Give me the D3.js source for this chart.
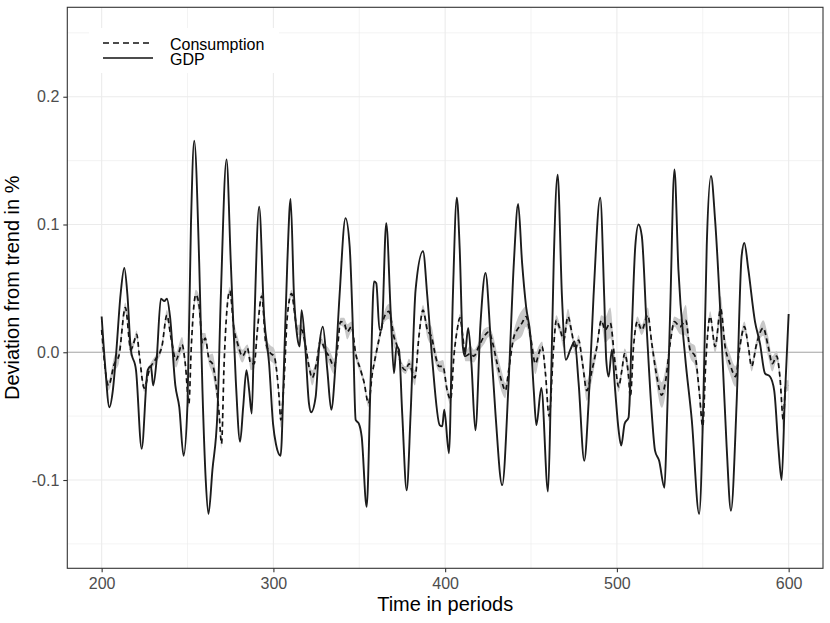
<!DOCTYPE html>
<html>
<head>
<meta charset="utf-8">
<script src="https://cdn.jsdelivr.net/npm/d3@7/dist/d3.min.js"></script>
<style>
  body { margin: 0; background: #fff; }
  text { font-family: "Liberation Sans", Arial, Helvetica, sans-serif; }
</style>
</head>
<body>
<svg id="chart" width="830" height="623"></svg>
<script>
// ----- data -----
const xMajor = [200, 300, 400, 500, 600];
const xMinor = [250, 350, 450, 550];
const yMajor = [-0.1, 0, 0.1, 0.2];
const yMinor = [-0.15, -0.05, 0.05, 0.15, 0.25];
const seriesNames = ["Consumption", "GDP"];

// [period, deviation]
const gdp = [
  [200, 0.028], [202, -0.01], [204.5, -0.043], [206.5, -0.03], [208.5, 0.0], [211, 0.045],
  [213.2, 0.066], [215, 0.045], [217, 0.002], [220, -0.014], [223.3, -0.0755], [226.8, -0.014],
  [228.7, -0.011], [230, -0.026], [232, -0.006], [234.5, 0.042], [236.5, 0.040], [238, 0.042],
  [239.8, 0.028], [242.9, -0.026], [245.2, -0.043], [247.7, -0.081], [250, -0.04], [252, 0.1],
  [253.9, 0.1655], [256.8, 0.07], [258.7, -0.03], [260.6, -0.1], [262.2, -0.1265], [264.5, -0.092],
  [267.4, -0.048], [269.4, 0.044], [272.7, 0.151], [275.2, 0.07], [278.1, -0.022], [280.6, -0.070],
  [282.4, -0.043], [284.3, -0.014], [285.9, -0.03], [287.4, -0.048], [288.8, 0.0175], [291.7, 0.114],
  [294.6, 0.028], [297.5, -0.009], [299.8, -0.056], [301.5, -0.072], [304.2, -0.081], [306.2, -0.009],
  [308.1, 0.07], [310, 0.12], [312, 0.044], [313.9, 0.012], [315.3, 0.0045], [316.4, 0.033],
  [318.4, 0.007], [320.7, -0.040], [322, -0.047], [324.6, -0.035], [326.5, 0.002], [328.8, 0.020],
  [331.4, -0.014], [333.7, -0.045], [336.2, -0.009], [338.5, 0.044], [342, 0.105], [344.4, 0.083],
  [346.3, 0.0175], [347.9, -0.053], [349.8, -0.056], [351.4, -0.066], [354.3, -0.121], [356.6, -0.022],
  [358.6, 0.0555], [359.9, 0.054], [361.8, 0.0175], [363, 0.0175], [365.7, 0.101], [368.3, 0.031],
  [370.2, -0.0165], [371.7, 0.0045], [373.1, 0.002], [375, -0.048], [377.6, -0.108], [379.9, -0.048],
  [382.8, 0.049], [387.1, 0.079], [389.6, 0.044], [392.5, -0.006], [396.8, -0.057], [398.3, -0.058],
  [399.5, -0.045], [402.2, -0.079], [404.5, 0.044], [406.8, 0.121], [408.5, 0.08], [410.3, 0.0045],
  [411.4, -0.003], [413.4, 0.019], [415.3, -0.009], [417.6, -0.061], [420.6, 0.023], [423.5, 0.062],
  [426.4, 0.012], [429.3, -0.048], [433.2, -0.104], [437, -0.022], [440, 0.07], [442.5, 0.116],
  [444.8, 0.07], [447.1, 0.036], [449.7, 0.012], [451.6, -0.03], [453.1, -0.057], [456, -0.028],
  [459.9, -0.109], [461.5, -0.035], [463.2, 0.07], [465.5, 0.139], [468, 0.044], [470.3, -0.006],
  [472.9, 0.002], [475.4, 0.0085], [477.7, -0.024], [481, -0.085], [483.5, -0.04], [486.4, 0.044],
  [490.3, 0.121], [492.6, 0.044], [493.8, -0.006], [495.2, -0.019], [497.1, 0.002], [499, -0.03],
  [501, -0.061], [502.5, -0.073], [504.5, -0.056], [506.8, -0.051], [508.7, 0.0175], [510.7, 0.083],
  [512.6, 0.100], [514.5, 0.091], [517.4, 0.0175], [520.3, -0.048], [522.2, -0.077], [524.6, -0.085],
  [527.7, -0.106], [529, -0.061], [531, 0.031], [533.5, 0.143], [535.8, 0.065], [539.7, -0.003],
  [543.6, -0.053], [547.9, -0.1265], [550.4, -0.035], [552.3, 0.083], [554.8, 0.138], [557.2, 0.103],
  [561.2, 0.0045], [563.9, -0.074], [566.4, -0.124], [569.7, -0.040], [572.6, 0.075], [574.2, 0.0855],
  [576.5, 0.065], [580.4, 0.024], [583.3, 0.007], [586.2, -0.0165], [589.1, -0.019], [591.6, -0.03],
  [594, -0.074], [595.9, -0.1], [597.8, -0.035], [600, 0.03]
];

// [period, deviation, half width of the grey band]
const consumption = [
  [200, 0.0175, 0.003], [204, -0.026, 0.004], [207.4, -0.009, 0.006], [210, -0.003, 0.006],
  [213.8, 0.035, 0.004], [217, 0.002, 0.005], [218.6, 0.007, 0.003], [220.4, 0.014, 0.003],
  [222, -0.003, 0.003], [224.8, -0.028, 0.003], [227.7, -0.014, 0.003], [231.6, -0.005, 0.003],
  [235, 0.004, 0.003], [238, 0.029, 0.004], [240.3, 0.012, 0.004], [243.3, -0.006, 0.006],
  [246.8, 0.006, 0.006], [248.7, -0.009, 0.004], [250.8, -0.04, 0.003], [252.2, 0.0045, 0.003],
  [254.8, 0.045, 0.004], [256.8, 0.036, 0.008], [258.7, 0.007, 0.008], [260.3, 0.011, 0.004],
  [262.6, -0.006, 0.004], [264.5, -0.009, 0.008], [266.5, -0.024, 0.008], [268.4, -0.048, 0.004],
  [269.8, -0.0715, 0.004], [271.3, -0.009, 0.003], [274.6, 0.048, 0.003], [277.1, 0.0175, 0.006],
  [279.1, 0.007, 0.006], [282, -0.003, 0.005], [284.9, 0.003, 0.003], [286.8, -0.009, 0.005],
  [288.8, -0.009, 0.004], [290.7, 0.0175, 0.003], [293.2, 0.044, 0.003], [295.6, 0.007, 0.005],
  [298.5, -0.001, 0.006], [300.4, -0.003, 0.006], [303.3, -0.035, 0.004], [304.3, -0.053, 0.006],
  [306.2, -0.022, 0.004], [308.1, 0.028, 0.003], [310.6, 0.046, 0.003], [312.6, 0.028, 0.004],
  [313.9, 0.0175, 0.004], [316.4, 0.0175, 0.004], [318.8, 0.0045, 0.006], [320.7, -0.011, 0.004],
  [322.6, -0.020, 0.006], [325, -0.009, 0.004], [327.5, 0.0095, 0.003], [330, 0.002, 0.004],
  [332.3, -0.003, 0.006], [335.3, -0.011, 0.006], [337.2, 0.002, 0.004], [339.1, 0.024, 0.003],
  [341.1, 0.023, 0.004], [343, 0.016, 0.006], [345.5, 0.020, 0.004], [347.9, -0.001, 0.004],
  [350.8, -0.014, 0.003], [352.7, -0.023, 0.003], [355.4, -0.040, 0.003], [357.6, -0.0165, 0.003],
  [359.5, -0.003, 0.004], [361.8, 0.012, 0.004], [364.4, 0.027, 0.004], [367.3, 0.032, 0.006],
  [370.2, 0.012, 0.008], [372.1, 0.0045, 0.004], [374.1, -0.009, 0.004], [377, -0.014, 0.003],
  [378.9, -0.009, 0.004], [382.4, -0.020, 0.006], [384.7, 0.012, 0.004], [387.1, 0.033, 0.004],
  [389.6, 0.0175, 0.006], [392.1, 0.012, 0.008], [394.4, -0.003, 0.006], [396.4, -0.011, 0.004],
  [398.7, -0.011, 0.005], [401.2, -0.030, 0.004], [403.2, -0.037, 0.004], [405.1, -0.003, 0.003],
  [407, 0.0175, 0.003], [408.6, 0.027, 0.003], [410.3, 0.012, 0.004], [411.8, -0.003, 0.004],
  [414.7, -0.001, 0.006], [416.7, -0.003, 0.005], [419.6, 0.0045, 0.004], [422.5, 0.012, 0.006],
  [425.4, 0.016, 0.004], [427.7, 0.007, 0.007], [430.3, -0.009, 0.008], [433.2, -0.024, 0.008],
  [435.1, -0.030, 0.006], [437, -0.014, 0.004], [440, 0.012, 0.005], [441.9, 0.0175, 0.008],
  [444.8, 0.023, 0.010], [447.1, 0.028, 0.008], [449.7, 0.012, 0.005], [452.6, -0.009, 0.008],
  [454.5, -0.001, 0.006], [456.4, 0.0045, 0.004], [458.4, -0.0165, 0.004], [460.5, -0.05, 0.004],
  [463.2, 0.0045, 0.006], [464.7, 0.025, 0.004], [467, 0.0175, 0.004], [469, 0.0095, 0.006],
  [471.5, 0.028, 0.006], [473.8, 0.015, 0.004], [475.8, 0.002, 0.004], [477.7, 0.0095, 0.004],
  [480, -0.009, 0.005], [482.5, -0.030, 0.008], [485.5, -0.014, 0.008], [488.4, 0.0045, 0.004],
  [490.9, 0.025, 0.004], [493.2, 0.0175, 0.010], [496.1, 0.023, 0.012], [499, -0.009, 0.005],
  [501, -0.027, 0.004], [502.9, -0.014, 0.004], [504.5, -0.001, 0.004], [506.8, -0.019, 0.008],
  [507.8, -0.035, 0.008], [509.7, 0.0045, 0.004], [511.9, 0.024, 0.004], [514.5, 0.0175, 0.004],
  [518, 0.029, 0.006], [520.3, 0.007, 0.005], [522.6, -0.014, 0.008], [526.1, -0.0335, 0.010],
  [528.4, -0.022, 0.010], [531, 0.007, 0.005], [533.5, 0.024, 0.004], [536.8, 0.020, 0.006],
  [540.1, 0.025, 0.012], [542.6, 0.002, 0.006], [545.5, -0.003, 0.008], [547.9, -0.030, 0.006],
  [550, -0.058, 0.008], [551.7, -0.009, 0.004], [554.3, 0.028, 0.004], [557.2, 0.0045, 0.005],
  [560.4, 0.034, 0.010], [563, 0.0045, 0.008], [565.8, -0.009, 0.008], [569.1, -0.019, 0.008],
  [571.6, 0.0045, 0.005], [574.2, 0.020, 0.004], [576.5, 0.0045, 0.004], [578.4, -0.011, 0.004],
  [581.4, 0.007, 0.004], [585.2, 0.019, 0.006], [588.1, 0.0045, 0.008], [590.5, -0.009, 0.006],
  [593, -0.003, 0.004], [594.9, -0.019, 0.005], [596.9, -0.053, 0.008], [598.2, -0.027, 0.005],
  [600, -0.026, 0.004]
];

// ----- drawing -----
const svg = d3.select("#chart");
const panel = {left: 67.3, top: 7.3, right: 823, bottom: 568.3};

const x = d3.scaleLinear().domain([180, 620]).range([panel.left, panel.right]);
const y = d3.scaleLinear().domain([-0.1691, 0.270]).range([panel.bottom, panel.top]);

svg.append("clipPath").attr("id", "clip")
  .append("rect")
  .attr("x", panel.left).attr("y", panel.top)
  .attr("width", panel.right - panel.left).attr("height", panel.bottom - panel.top);

// grid
const grid = svg.append("g").attr("class", "grid");
grid.selectAll("line.xminor").data(xMinor).join("line")
  .attr("x1", d => x(d)).attr("x2", d => x(d))
  .attr("y1", panel.top).attr("y2", panel.bottom)
  .attr("stroke", "#ebebeb").attr("stroke-width", 0.6);
grid.selectAll("line.yminor").data(yMinor).join("line")
  .attr("y1", d => y(d)).attr("y2", d => y(d))
  .attr("x1", panel.left).attr("x2", panel.right)
  .attr("stroke", "#ebebeb").attr("stroke-width", 0.6);
grid.selectAll("line.xmajor").data(xMajor).join("line")
  .attr("x1", d => x(d)).attr("x2", d => x(d))
  .attr("y1", panel.top).attr("y2", panel.bottom)
  .attr("stroke", "#ebebeb").attr("stroke-width", 1.1);
grid.selectAll("line.ymajor").data(yMajor).join("line")
  .attr("y1", d => y(d)).attr("y2", d => y(d))
  .attr("x1", panel.left).attr("x2", panel.right)
  .attr("stroke", "#ebebeb").attr("stroke-width", 1.1);

// zero line
svg.append("line")
  .attr("x1", panel.left).attr("x2", panel.right)
  .attr("y1", y(0)).attr("y2", y(0))
  .attr("stroke", "#aaaaaa").attr("stroke-width", 1.1);

const plot = svg.append("g").attr("clip-path", "url(#clip)");

// grey band round consumption
const band = d3.area()
  .x(d => x(d[0]))
  .y0(d => y(d[1] - d[2]))
  .y1(d => y(d[1] + d[2]))
  .curve(d3.curveMonotoneX);
plot.append("path")
  .datum(consumption)
  .attr("d", band)
  .attr("fill", "#c8c8c8");

const line = d3.line()
  .x(d => x(d[0]))
  .y(d => y(d[1]))
  .curve(d3.curveMonotoneX);

plot.append("path")
  .datum(consumption)
  .attr("d", line)
  .attr("fill", "none")
  .attr("stroke", "#111")
  .attr("stroke-width", 1.7)
  .attr("stroke-dasharray", "5,3.5");

plot.append("path")
  .datum(gdp)
  .attr("d", line)
  .attr("fill", "none")
  .attr("stroke", "#1c1c1c")
  .attr("stroke-width", 1.9)
  .attr("stroke-linejoin", "round");

// panel border
svg.append("rect")
  .attr("x", panel.left).attr("y", panel.top)
  .attr("width", panel.right - panel.left).attr("height", panel.bottom - panel.top)
  .attr("fill", "none").attr("stroke", "#333").attr("stroke-width", 1.1);

// axes
const fmt = d => d.toFixed(1);
const leftAxis = d3.axisLeft(y).tickValues(yMajor).tickFormat(fmt).tickSize(4).tickPadding(4);
const gy = svg.append("g")
  .attr("transform", `translate(${panel.left},0)`)
  .call(leftAxis);
const bottomAxis = d3.axisBottom(x).tickValues(xMajor).tickFormat(d3.format("d")).tickSize(4).tickPadding(5);
const gx = svg.append("g")
  .attr("transform", `translate(0,${panel.bottom})`)
  .call(bottomAxis);
[gx, gy].forEach(g => {
  g.select(".domain").remove();
  g.selectAll(".tick line").attr("stroke", "#333").attr("stroke-width", 1.1);
  g.selectAll(".tick text").attr("fill", "#4d4d4d").style("font-size", "16px")
    .style("font-family", '"Liberation Sans", Arial, sans-serif');
});

// axis titles
svg.append("text")
  .attr("x", (panel.left + panel.right) / 2).attr("y", 611)
  .attr("text-anchor", "middle")
  .style("font-size", "20px").attr("fill", "#000")
  .text("Time in periods");
svg.append("text")
  .attr("transform", `translate(19,${(panel.top + panel.bottom) / 2}) rotate(-90)`)
  .attr("text-anchor", "middle")
  .style("font-size", "20px").attr("fill", "#000")
  .text("Deviation from trend in %");

// legend
const legend = svg.append("g");
legend.append("rect")
  .attr("x", 89).attr("y", 28).attr("width", 190).attr("height", 45)
  .attr("fill", "#fff");
const keys = legend.selectAll("g.key").data(seriesNames).join("g")
  .attr("class", "key")
  .attr("transform", (d, i) => `translate(0,${43 + i * 15})`);
keys.append("line")
  .attr("x1", 103).attr("x2", 153).attr("y1", 0).attr("y2", 0)
  .attr("stroke", "#111").attr("stroke-width", 1.5)
  .attr("stroke-dasharray", d => d === "Consumption" ? "6,4" : null);
keys.append("text")
  .attr("x", 170).attr("y", 7)
  .style("font-size", "16px").attr("fill", "#000")
  .text(d => d);
</script>
</body>
</html>
